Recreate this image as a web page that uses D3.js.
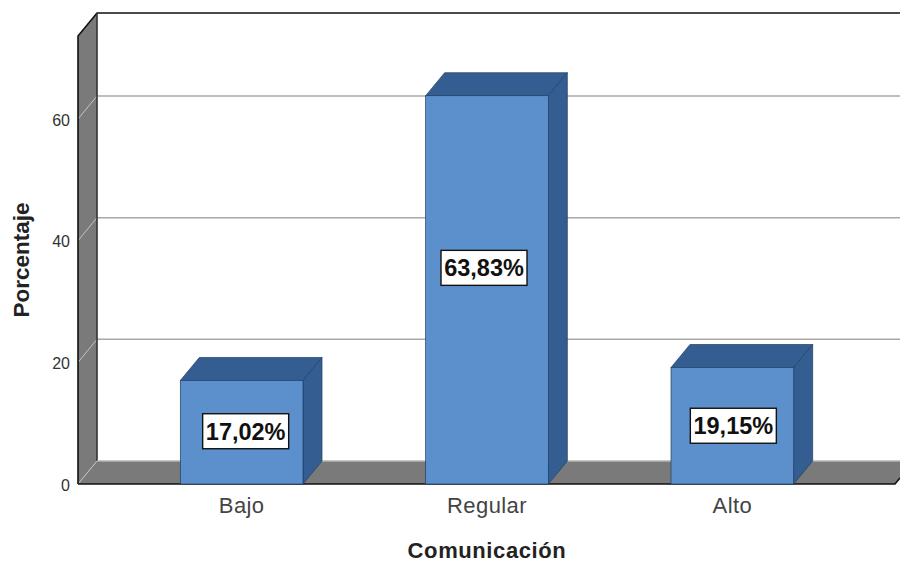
<!DOCTYPE html>
<html>
<head>
<meta charset="utf-8">
<script src="https://cdn.jsdelivr.net/npm/d3@7"></script>
<style>
  html, body { margin: 0; padding: 0; background: #fff; }
  text { font-family: "Liberation Sans", Arial, sans-serif; }
</style>
</head>
<body>
<div class="canvas"></div>
<script>
const categorias = ['Bajo', 'Regular', 'Alto'];
const porcentajes = [17.02, 63.83, 19.15];
const etiquetas = ['17,02%', '63,83%', '19,15%'];
const ticks = [0, 20, 40, 60];

const dims = { width: 900, height: 562 };
const depth = { x: 19, y: -23 };
const wall = { left: 78, right: 895, top: 36, bottom: 484 };

const colores = {
    front: '#5b90cc',
    dark: '#345e91',
    edge: '#1f3d63',
    wall: '#7a7a7a',
    grid: '#a8a8a8'
};

// the label boxes were nudged by hand in the original
const labelNudge = [{ x: 4, y: -1 }, { x: -3, y: -22 }, { x: 1, y: 0 }];

const svg = d3.select('.canvas')
    .append('svg')
    .attr('width', dims.width)
    .attr('height', dims.height)
    .style('display', 'block');

const x = d3.scaleBand()
    .domain(categorias)
    .range([119, 855])
    .paddingInner(0.5)
    .paddingOuter(0.25);

const y = d3.scaleLinear()
    .domain([0, 60])
    .range([wall.bottom, 119]);

const poly = pts => pts.map(p => p.join(',')).join(' ');

// back wall is plain white, only the side wall and the floor are grey
svg.append('polygon')
    .attr('points', poly([
        [wall.left, wall.top],
        [wall.left + depth.x, wall.top + depth.y],
        [wall.left + depth.x, wall.bottom + depth.y],
        [wall.left, wall.bottom]
    ]))
    .attr('fill', colores.wall);

svg.append('polygon')
    .attr('points', poly([
        [wall.left, wall.bottom],
        [wall.left + depth.x, wall.bottom + depth.y],
        [dims.width, wall.bottom + depth.y],
        [dims.width, wall.bottom - 6],
        [wall.right, wall.bottom]
    ]))
    .attr('fill', colores.wall);

// gridlines
const grid = svg.append('g');

grid.selectAll('line.back')
    .data(ticks.filter(d => d > 0))
    .enter()
    .append('line')
    .attr('class', 'back')
    .attr('x1', wall.left + depth.x)
    .attr('x2', dims.width)
    .attr('y1', d => y(d) + depth.y)
    .attr('y2', d => y(d) + depth.y)
    .attr('stroke', colores.grid)
    .attr('stroke-width', 1.5);

grid.selectAll('line.side')
    .data(ticks)
    .enter()
    .append('line')
    .attr('class', 'side')
    .attr('x1', wall.left)
    .attr('x2', wall.left + depth.x)
    .attr('y1', d => y(d))
    .attr('y2', d => y(d) + depth.y)
    .attr('stroke', '#c4c4c4')
    .attr('stroke-width', 1);

// frame
const frame = d3.path();
frame.moveTo(wall.left, wall.bottom);
frame.lineTo(wall.left, wall.top);
frame.lineTo(wall.left + depth.x, wall.top + depth.y);
frame.lineTo(dims.width, wall.top + depth.y);
svg.append('path')
    .attr('d', frame.toString())
    .attr('fill', 'none')
    .attr('stroke', '#111')
    .attr('stroke-width', 1.6);

svg.append('line')
    .attr('x1', wall.left + depth.x)
    .attr('x2', wall.left + depth.x)
    .attr('y1', wall.top + depth.y)
    .attr('y2', wall.bottom + depth.y)
    .attr('stroke', '#333')
    .attr('stroke-width', 1.6);

svg.append('line')
    .attr('x1', wall.left + depth.x)
    .attr('x2', dims.width)
    .attr('y1', wall.bottom + depth.y)
    .attr('y2', wall.bottom + depth.y)
    .attr('stroke', '#b5b5b5')
    .attr('stroke-width', 1.5);

const baseLine = d3.path();
baseLine.moveTo(wall.left, wall.bottom);
baseLine.lineTo(wall.right, wall.bottom);
baseLine.lineTo(dims.width, wall.bottom - 6);
svg.append('path')
    .attr('d', baseLine.toString())
    .attr('fill', 'none')
    .attr('stroke', '#111')
    .attr('stroke-width', 1.6);

// bars
const bars = svg.selectAll('g.bar')
    .data(categorias.map((c, i) => ({ c, v: porcentajes[i], label: etiquetas[i], nudge: labelNudge[i] })))
    .enter()
    .append('g')
    .attr('class', 'bar');

bars.append('polygon')
    .attr('points', d => {
        const x0 = x(d.c), x1 = x0 + x.bandwidth(), t = y(d.v);
        return poly([[x0, t], [x0 + depth.x, t + depth.y], [x1 + depth.x, t + depth.y], [x1, t]]);
    })
    .attr('fill', colores.dark)
    .attr('stroke', colores.edge)
    .attr('stroke-width', 0.7);

bars.append('polygon')
    .attr('points', d => {
        const x1 = x(d.c) + x.bandwidth(), t = y(d.v);
        return poly([[x1, t], [x1 + depth.x, t + depth.y], [x1 + depth.x, y(0) + depth.y], [x1, y(0)]]);
    })
    .attr('fill', colores.dark)
    .attr('stroke', colores.edge)
    .attr('stroke-width', 0.7);

bars.append('rect')
    .attr('x', d => x(d.c))
    .attr('y', d => y(d.v))
    .attr('width', x.bandwidth())
    .attr('height', d => y(0) - y(d.v))
    .attr('fill', colores.front)
    .attr('stroke', colores.edge)
    .attr('stroke-width', 0.7);

// value labels
const labelW = 86, labelH = 35;

bars.append('rect')
    .attr('x', d => x(d.c) + x.bandwidth() / 2 + d.nudge.x - labelW / 2)
    .attr('y', d => (y(d.v) + y(0)) / 2 + d.nudge.y - labelH / 2)
    .attr('width', labelW)
    .attr('height', labelH)
    .attr('fill', '#fff')
    .attr('stroke', '#111')
    .attr('stroke-width', 1.4);

bars.append('text')
    .attr('x', d => x(d.c) + x.bandwidth() / 2 + d.nudge.x)
    .attr('y', d => (y(d.v) + y(0)) / 2 + d.nudge.y)
    .attr('dy', '0.36em')
    .attr('text-anchor', 'middle')
    .attr('font-size', 23.5)
    .attr('font-weight', 'bold')
    .attr('fill', '#111')
    .text(d => d.label);

// axes
const yAxis = d3.axisLeft(y).tickValues(ticks).tickSize(0).tickPadding(8);
const yAxisGroup = svg.append('g')
    .attr('transform', `translate(${wall.left},1)`)
    .call(yAxis);
yAxisGroup.select('.domain').remove();
yAxisGroup.selectAll('text')
    .attr('font-size', 16)
    .style('font-family', '"Liberation Sans", Arial, sans-serif')
    .attr('fill', '#333');

const xAxis = d3.axisBottom(x).tickSize(0).tickPadding(13);
const xAxisGroup = svg.append('g')
    .attr('transform', `translate(0,${wall.bottom})`)
    .call(xAxis);
xAxisGroup.select('.domain').remove();
xAxisGroup.selectAll('text')
    .attr('font-size', 22)
    .attr('letter-spacing', 0.4)
    .style('font-family', '"Liberation Sans", Arial, sans-serif')
    .attr('fill', '#444');

// axis titles
svg.append('text')
    .attr('x', 487)
    .attr('y', 558)
    .attr('text-anchor', 'middle')
    .attr('font-size', 22)
    .attr('letter-spacing', 0.6)
    .attr('font-weight', 'bold')
    .attr('fill', '#222')
    .text('Comunicación');

svg.append('text')
    .attr('transform', 'translate(29,260) rotate(-90)')
    .attr('text-anchor', 'middle')
    .attr('font-size', 22.5)
    .attr('font-weight', 'bold')
    .attr('fill', '#222')
    .text('Porcentaje');
</script>
</body>
</html>
